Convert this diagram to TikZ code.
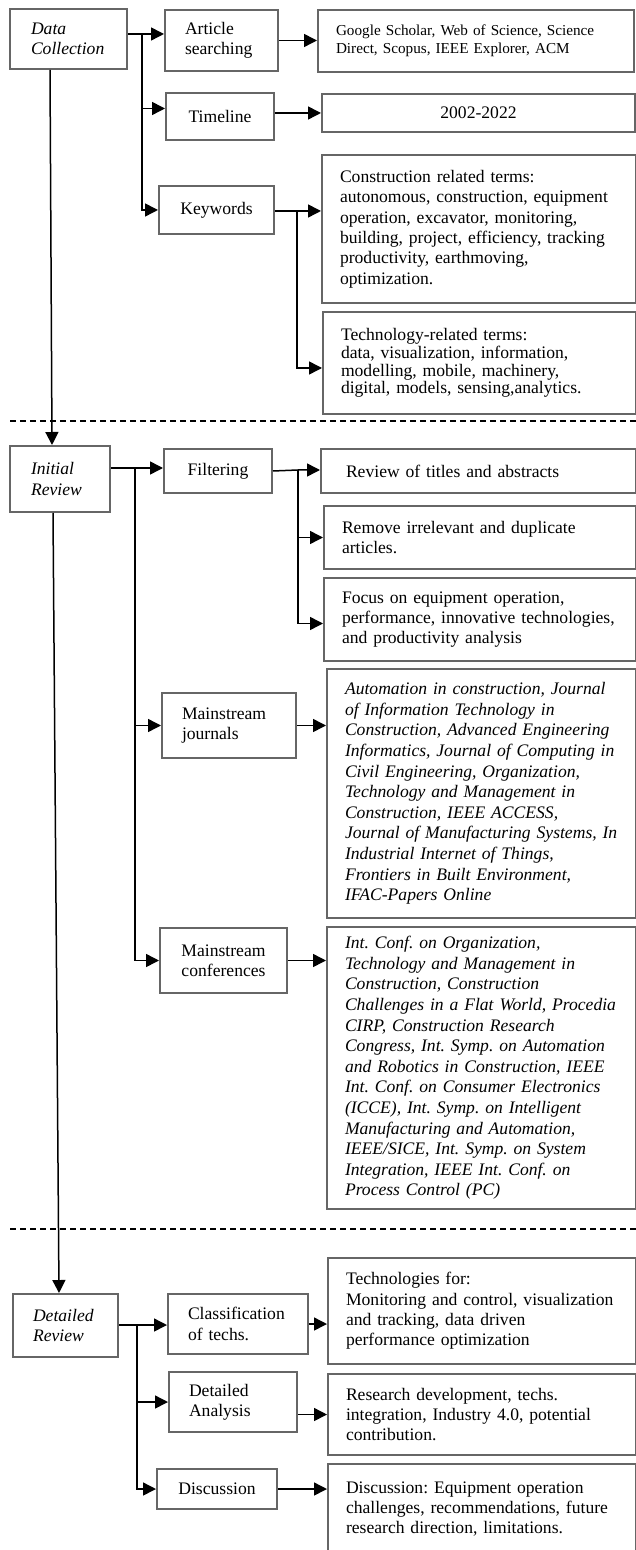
\documentclass[tikz,border=0pt]{standalone}
\usepackage{fontspec}
\setmainfont{Liberation Serif}
\usetikzlibrary{arrows.meta}

\tikzset{
	box/.style={draw=black!60, line width=1pt, anchor=north west, inner xsep=9pt, inner ysep=1pt, align=left, font=\fontsize{8.8}{10.2}\selectfont},
	cbox/.style={box, align=center},
	stage/.style={box, inner xsep=10.5pt, font=\itshape\fontsize{8.8}{10.2}\selectfont},
	arr/.style={-{Triangle[length=6.5pt,width=6.5pt]}, line width=0.75pt},
	sep/.style={dash pattern=on 3pt off 2pt, line width=0.9pt}
}

\begin{document}
\frenchspacing
\begin{tikzpicture}[x=0.5pt, y=-0.5pt]
	\useasboundingbox (0,0) rectangle (636,1550);
	
	% stages
	\node[stage, text width=37.5pt, minimum height=30pt] (dc) at (9,8) {Data\\Collection};
	\node[stage, text width=29pt, minimum height=33pt] (ir) at (9,445) {Initial\\Review};
	\node[stage, inner xsep=10pt, text width=32.5pt, minimum height=31.5pt] (dr) at (12,1293) {Detailed\\Review};
	
	% data collection
	\node[box, inner xsep=10pt, text width=36.5pt, minimum height=30.5pt] (art) at (164,9) {Article\\searching};
	\node[cbox, minimum width=54pt, minimum height=23.5pt] (tl) at (165,92) {Timeline};
	\node[cbox, minimum width=57.5pt, minimum height=24pt] (kw) at (158,185) {Keywords};
	\node[box, text width=140pt, minimum height=31pt, font=\fontsize{7.6}{9}\selectfont] (gs) at (317,9) {Google Scholar, Web of Science, Science\\Direct, Scopus, IEEE Explorer, ACM};
	\node[cbox, minimum width=156.5pt, minimum height=19pt] (yrs) at (321,93) {2002-2022};
	\node[box, text width=139pt, minimum height=74pt] (ct) at (321,154) {Construction related terms:\\autonomous, construction, equipment\\operation, excavator, monitoring,\\building, project, efficiency, tracking\\productivity, earthmoving,\\optimization.};
	\node[box, text width=138.5pt, minimum height=51pt, font=\fontsize{8.8}{8.9}\selectfont] (tt) at (322,311) {Technology-related terms:\\data, visualization, information,\\modelling, mobile, machinery,\\digital, models, sensing,analytics.};
	
	% initial review
	\node[cbox, minimum width=54pt, minimum height=22pt] (flt) at (163,448) {Filtering};
	\node[box, inner xsep=10pt, text width=47pt, minimum height=32.5pt] (mj) at (161,692) {Mainstream\\journals};
	\node[cbox, minimum width=63.5pt, minimum height=32.5pt] (mc) at (159,927) {Mainstream\\conferences};
	\node[box, inner xsep=12.5pt, text width=132.5pt, minimum height=22pt] (ti) at (320,448) {Review of titles and abstracts};
	\node[box, text width=138pt, minimum height=31.5pt] (rm) at (323,505) {Remove irrelevant and duplicate\\articles.};
	\node[box, text width=138pt, minimum height=41.5pt] (fc) at (323,577) {Focus on equipment operation,\\performance, innovative technologies,\\and productivity analysis};
	\node[box, text width=136.5pt, minimum height=124.5pt, font=\itshape\fontsize{8.8}{10.3}\selectfont] (jr) at (326,668) {Automation in construction, Journal\\of Information Technology in\\Construction, Advanced Engineering\\Informatics, Journal of Computing in\\Civil Engineering, Organization,\\Technology and Management in\\Construction, IEEE ACCESS,\\Journal of Manufacturing Systems, In\\Industrial Internet of Things,\\Frontiers in Built Environment,\\IFAC-Papers Online};
	\node[box, text width=136.5pt, minimum height=141pt, font=\itshape\fontsize{8.8}{10.3}\selectfont] (cf) at (326,926) {Int. Conf. on Organization,\\Technology and Management in\\Construction, Construction\\Challenges in a Flat World, Procedia\\CIRP, Construction Research\\Congress, Int. Symp. on Automation\\and Robotics in Construction, IEEE\\Int. Conf. on Consumer Electronics\\(ICCE), Int. Symp. on Intelligent\\Manufacturing and Automation,\\IEEE/SICE, Int. Symp. on System\\Integration, IEEE Int. Conf. on\\Process Control (PC)};
	
	% detailed review
	\node[box, inner xsep=10pt, text width=50pt, minimum height=30pt] (cls) at (167,1293) {Classification\\of techs.};
	\node[box, inner xsep=10pt, text width=44pt, minimum height=30pt] (da) at (168,1371) {Detailed\\Analysis};
	\node[cbox, minimum width=60pt, minimum height=20pt] (disc) at (156,1468) {Discussion};
	\node[box, text width=136pt, minimum height=53pt] (tc) at (327,1257) {Technologies for:\\Monitoring and control, visualization\\and tracking, data driven\\performance optimization};
	\node[box, text width=136pt, minimum height=40.5pt] (rs) at (327,1373) {Research development, techs.\\integration, Industry 4.0, potential\\contribution.};
	\node[box, text width=136pt, minimum height=45pt] (ds) at (327,1463) {Discussion: Equipment operation\\challenges, recommendations, future\\research direction, limitations.};
	
	\coordinate (dcj) at (142,34);
	\coordinate (kwj) at (297,211);
	\coordinate (irj) at (135,468);
	\coordinate (fltj) at (298,470);
	\coordinate (drj) at (137,1325);
	
	\draw[arr] (dc.east |- dcj) -- (dcj -| art.west);
	\draw[arr] (dcj) |- ([yshift=4pt]tl.west);
	\draw[arr] (dcj) |- (kw.west);
	\draw[arr] (art.east) -- (art.east -| gs.west);
	\draw[arr] (tl.east |- yrs.west) -- (yrs.west);
	\draw[arr] (kw.east |- kwj) -- (kwj -| ct.west);
	\draw[arr] (kwj) |- ([yshift=-2.5pt]tt.west);
	
	\draw[arr] (ir.east |- irj) -- (irj -| flt.west);
	\draw[arr] (irj) |- (mj.west);
	\draw[arr] (irj) |- (mc.west);
	\draw[arr] (flt.east) -- (fltj) -- (fltj -| ti.west);
	\draw[arr] (fltj) |- (rm.west);
	\draw[arr] (fltj) |- ([yshift=-2pt]fc.west);
	\draw[arr] (mj.east) -- (mj.east -| jr.west);
	\draw[arr] (mc.east) -- (mc.east -| cf.west);
	
	\draw[arr] (dr.east |- drj) -- (drj -| cls.west);
	\draw[arr] (drj) |- (da.west);
	\draw[arr] (drj) |- (disc.west);
	\draw[arr] (cls.east) -- (cls.east -| tc.west);
	\draw[arr] (da.east |- rs.west) -- (rs.west);
	\draw[arr] (disc.east) -- (disc.east -| ds.west);
	
	\draw[arr] ([xshift=20.5pt]dc.south west) -- ([xshift=21.5pt]ir.north west);
	\draw[arr] ([xshift=22pt]ir.south west) -- ([xshift=23.5pt]dr.north west);
	
	\foreach \y in {421,1229}
		\draw[sep] (10,\y) -- (636,\y);
\end{tikzpicture}
\end{document}
